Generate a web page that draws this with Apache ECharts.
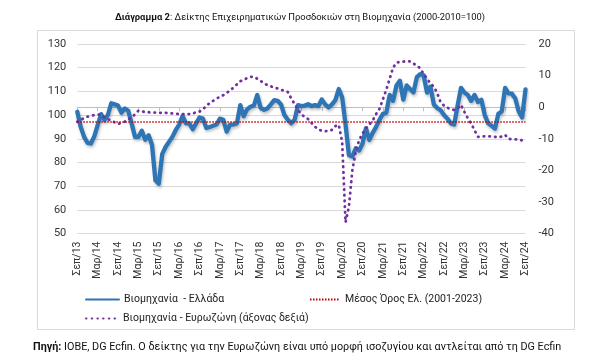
<!DOCTYPE html>
<html><head><meta charset="utf-8">
<script src="https://cdn.jsdelivr.net/npm/echarts@6/dist/echarts.min.js"></script>
<style>html,body{margin:0;padding:0;background:#fff}#c{width:600px;height:361px}</style>
</head><body><div id="c"></div>
<script>
// ---- data ----
const monthNames = ['Ιαν','Φεβ','Μαρ','Απρ','Μαϊ','Ιουν','Ιουλ','Αυγ','Σεπ','Οκτ','Νοε','Δεκ'];
const startYear = 2013;
const startMonthIndex = 8; // Σεπ/13
const greece = [
  101.4, 95, 90.8, 88.3, 88, 91, 95.8, 100.4, 97.9, 100, 105, 104.5,
  104, 101, 102.8, 101.8, 96.5, 90.8, 90.8, 93.4, 89.6, 91.5, 87.5, 72.5,
  71, 83.5, 86.5, 88.7, 90.8, 93.7, 96, 99.6, 96.5, 96.5, 94, 96.5,
  99, 98.5, 94.5, 95, 95.5, 96, 98.5, 98, 93, 96, 96, 96.5,
  104.2, 99.5, 102.4, 103.5, 104, 108.5, 103, 102.2, 102.8, 104.5, 106.3, 106,
  104.5, 100, 98, 96.5, 98, 104.2, 103.8, 104, 104.6, 103.8, 104.2, 103.8,
  106.6, 104.5, 103.2, 104.5, 106.3, 111, 107.5, 96, 83, 82.5, 86, 85,
  88, 94.5, 89.5, 92.5, 95, 98, 100.5, 101, 108.5, 106, 112.5, 114.5,
  106.5, 112.5, 111, 109.5, 116, 117.3, 116.8, 109.5, 112, 104.5, 103, 102,
  100, 98.5, 96.5, 96, 104, 111.5, 109.5, 108.5, 106, 108.5, 105.5, 106.5,
  100, 96.5, 95.5, 94.3, 100.5, 101.5, 111.5, 109.2, 109, 107, 101.5, 99,
  110.8
];
const eurozone = [
  -4.6, -4, -3.5, -3, -2.8, -2.5, -2.3, -2.5, -3.2, -3.8, -4.3, -4.8,
  -5.3, -5, -4.6, -4, -3.2, -2.3, -1.1, -1.4, -1.5, -1.6, -1.7, -1.7,
  -1.8, -1.8, -1.8, -1.9, -2, -2.1, -2.2, -2.2, -2.2, -2.2, -2, -1.6,
  -1.4, -0.7, 0.4, 1.3, 2, 2.7, 3.3, 3.8, 4.5, 5.3, 6.2, 7.2,
  8.2, 8.7, 9.2, 9.6, 9.6, 9, 8.3, 7.5, 7, 6.6, 6.2, 5.9,
  5.5, 5.2, 4.8, 2.8, 1, -0.8, -2.3, -3.1, -3.8, -5, -6.2, -7,
  -7.5, -7.6, -7.5, -7.2, -6, -5.6, -11, -36.5, -31.5, -20, -14, -10.5,
  -8.3, -6.8, -5.5, -4.2, -2.2, -0.5, 2.5, 5.5, 9, 12.5, 14.1, 14.3,
  14.4, 14.6, 14.5, 13.8, 13.2, 12.3, 10.5, 9, 7.5, 6.5, 4.5, 1.5,
  0.5, -0.2, -0.6, -0.9, -0.3, 0.7, -1.5, -3.5, -5.2, -7.3, -9.4, -9.4,
  -9.2, -9.2, -9.3, -9.4, -9.6, -9.3, -8.8, -10, -10.2, -10.2, -10.3, -10.5,
  -10.6
];
const greekMean = 97.3;
const leftAxisRange = [50, 130];
const rightAxisRange = [-40, 20];
const seriesNames = ['Βιομηχανία  - Ελλάδα', 'Μέσος Όρος Ελ. (2001-2023)', 'Βιομηχανία - Ευρωζώνη (άξονας δεξιά)'];
const titleBold = 'Διάγραμμα 2';
const titleRest = ': Δείκτης Επιχειρηματικών Προσδοκιών στη Βιομηχανία (2000-2010=100)';
const sourceBold = 'Πηγή:';
const sourceRest = ' ΙΟΒΕ, DG Ecfin. Ο δείκτης για την Ευρωζώνη είναι υπό μορφή ισοζυγίου και αντλείται από τη DG Ecfin';

const categories = greece.map((_, i) => {
  const t = startMonthIndex + i;
  const yy = (startYear + Math.floor(t / 12)) % 100;
  return monthNames[t % 12] + '/' + String(yy).padStart(2, '0');
});

// ---- chart ----
const FONT = 'Roboto';
const chart = echarts.init(document.getElementById('c'), null, {renderer: 'canvas'});
const legendCommon = {padding: 0, itemHeight: 14, itemStyle: {opacity: 0},
  textStyle: {fontFamily: FONT, fontSize: 10.5, color: '#222'}};
chart.setOption({
  animation: false,
  backgroundColor: '#fff',
  textStyle: {fontFamily: FONT},
  title: {
    text: '{b|' + titleBold + '}' + titleRest,
    left: 'center', top: 8,
    textStyle: {fontFamily: FONT, fontSize: 9.4, fontWeight: 'normal', color: '#111',
      rich: {b: {fontFamily: FONT, fontSize: 9.4, fontWeight: 'bold', color: '#111'}}}
  },
  graphic: [
    {type: 'rect', shape: {x: 37.5, y: 30.5, width: 537, height: 299}, style: {fill: 'none', stroke: '#d9d9d9', lineWidth: 1}, silent: true, z: -1},
    {type: 'text', left: 33, top: 342, style: {
      text: '{b|' + sourceBold + '}' + sourceRest,
      fontFamily: FONT, fontSize: 10.8, fill: '#111',
      rich: {b: {fontFamily: FONT, fontSize: 10.8, fontWeight: 'bold', fill: '#111'}}
    }}
  ],
  legend: [
    Object.assign({data: [seriesNames[0]], left: 85, top: 294, itemWidth: 33}, legendCommon),
    Object.assign({data: [seriesNames[1]], left: 309, top: 294, itemWidth: 30}, legendCommon),
    Object.assign({data: [seriesNames[2]], left: 85, top: 313, itemWidth: 32}, legendCommon)
  ],
  grid: {left: 77.3, right: 74.5, top: 44, bottom: 127.5, containLabel: false},
  xAxis: {
    type: 'category', data: categories, boundaryGap: false,
    axisLine: {lineStyle: {color: '#bfbfbf', width: 1}},
    axisTick: {interval: 5, length: 4, lineStyle: {color: '#bfbfbf'}},
    axisLabel: {interval: 5, rotate: 90, margin: 8, fontSize: 10.5, color: '#333', fontFamily: FONT},
    splitLine: {show: false}
  },
  yAxis: [
    {type: 'value', min: leftAxisRange[0], max: leftAxisRange[1], interval: 10,
      axisLine: {show: false}, axisTick: {show: false},
      axisLabel: {margin: 11, fontSize: 11, color: '#333', fontFamily: FONT},
      splitLine: {lineStyle: {color: '#d9d9d9', width: 1}}},
    {type: 'value', min: rightAxisRange[0], max: rightAxisRange[1], interval: 10,
      axisLine: {show: false}, axisTick: {show: false},
      axisLabel: {margin: 13, fontSize: 11, color: '#333', fontFamily: FONT},
      splitLine: {show: false}}
  ],
  series: [
    {name: seriesNames[0], type: 'line', yAxisIndex: 0, data: greece, symbol: 'none', smooth: false,
      color: '#2e75b6',
      lineStyle: {color: '#2e75b6', width: 4.3, join: 'round', cap: 'round',
        shadowColor: 'rgba(0,0,0,0.25)', shadowBlur: 3, shadowOffsetX: 1, shadowOffsetY: 2},
      z: 3},
    {name: seriesNames[1], type: 'line', yAxisIndex: 0, data: [], symbol: 'none',
      color: '#c00000',
      lineStyle: {color: '#c00000', width: 1.5, type: [1.5, 1.5]},
      markLine: {silent: true, symbol: 'none', label: {show: false},
        lineStyle: {color: '#c00000', width: 1.5, type: [1.5, 1.5]},
        data: [{yAxis: greekMean}]},
      z: 2},
    {name: seriesNames[2], type: 'line', yAxisIndex: 1, data: eurozone, symbol: 'none',
      color: '#7030a0',
      lineStyle: {color: '#7030a0', width: 2.8, type: [0.5, 5.2], cap: 'round'},
      z: 4}
  ]
});
</script></body></html>
